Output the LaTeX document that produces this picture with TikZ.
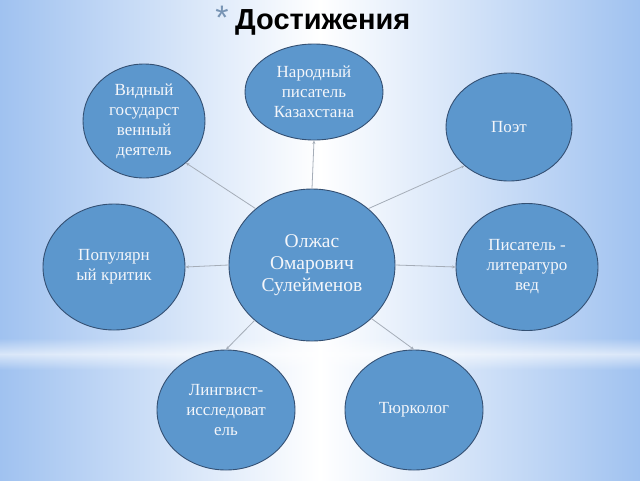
\documentclass[tikz,border=0pt]{standalone}
\usepackage{fontspec}
\setmainfont{Liberation Serif}
\newfontfamily\titlefont{Liberation Sans}
\usetikzlibrary{shapes.geometric,arrows.meta,fadings}
\definecolor{bgblue}{RGB}{160,194,240}
\definecolor{nodefill}{RGB}{92,151,205}
\definecolor{nodeborder}{RGB}{52,80,115}
\definecolor{linkcol}{RGB}{165,173,184}
\definecolor{startcol}{RGB}{120,148,180}
\definecolor{txtcol}{RGB}{244,246,250}
\tikzset{
  bubble/.style={ellipse, draw=nodeborder, line width=0.9pt, fill=nodefill,
    text=txtcol, align=center, inner sep=0pt, font=\fontsize{17}{20}\selectfont},
  hub/.style={bubble, font=\fontsize{19.5}{22}\selectfont},
  link/.style={draw=linkcol, line width=0.8pt, -{Stealth[length=3.5pt,width=3pt]}}
}
\begin{document}
\begin{tikzpicture}[x=1pt,y=-1pt]
\useasboundingbox (0,0) rectangle (640,480);
% background
\shade[left color=bgblue, right color=bgblue, middle color=white] (0,0) rectangle (640,480);
\fill[white, opacity=0.6, path fading=north] (0,338) rectangle (640,354);
\fill[white, opacity=0.6, path fading=south] (0,354) rectangle (640,370);
% title
\node[font=\titlefont\fontsize{34}{34}\selectfont, text=startcol] (star) at (222,18) {*};
\node[font=\titlefont\bfseries\fontsize{29}{29}\selectfont, anchor=base west, inner sep=0pt] (title) at (235,29) {Достижения};
% nodes
\node[hub, minimum width=166, minimum height=152] (c) at (312,265) {Олжас\\Омарович\\Сулейменов};
\node[bubble, minimum width=138, minimum height=96] (top) at (314,92) {Народный\\писатель\\Казахстана};
\node[bubble, minimum width=122, minimum height=114] (tl) at (144,121) {Видный\\государст\\венный\\деятель};
\node[bubble, minimum width=126, minimum height=108] (poet) at (509,127) {Поэт};
\node[bubble, minimum width=142, minimum height=126] (pl) at (114,267) {Популярн\\ый критик};
\node[bubble, minimum width=142, minimum height=127] (pr) at (527,267) {Писатель -\\литературо\\вед};
\node[bubble, minimum width=138, minimum height=120] (lb) at (226,410) {Лингвист-\\исследоват\\ель};
\node[bubble, minimum width=138, minimum height=120] (rb) at (414,410) {Тюрколог};
% connectors
\draw[link] (c.90) -- (top.270);
\draw[link] (c.135) -- (tl.-45);
\draw[link] (c.45) -- (poet.221);
\draw[link] (c.180) -- (pl.0);
\draw[link] (c.0) -- (pr.180);
\draw[link] (c.224) -- (lb.90);
\draw[link] (c.-42) -- (rb.90);
\end{tikzpicture}
\end{document}
